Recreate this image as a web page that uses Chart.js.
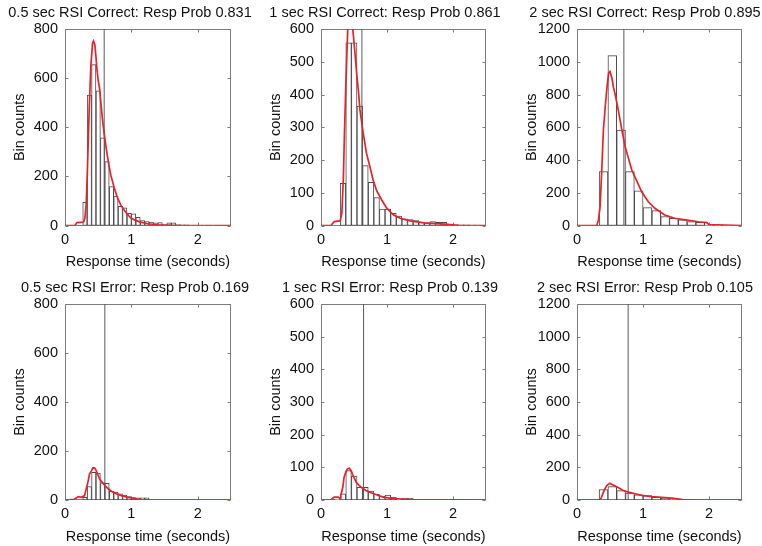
<!DOCTYPE html>
<html>
<head>
<meta charset="utf-8">
<script src="https://cdn.jsdelivr.net/npm/chart.js@4.4.1/dist/chart.umd.min.js"></script>
<style>
html,body{margin:0;padding:0;background:#fff;overflow:hidden;width:762px;height:546px;position:relative;}
canvas{position:absolute;}
</style>
</head>
<body>
<canvas id="c1"></canvas><canvas id="c2"></canvas><canvas id="c3"></canvas>
<canvas id="c4"></canvas><canvas id="c5"></canvas><canvas id="c6"></canvas>
<script>
// ---------- data ----------
const titles = [
  "0.5 sec RSI Correct: Resp Prob 0.831",
  "1 sec RSI Correct: Resp Prob 0.861",
  "2 sec RSI Correct: Resp Prob 0.895",
  "0.5 sec RSI Error: Resp Prob 0.169",
  "1 sec RSI Error: Resp Prob 0.139",
  "2 sec RSI Error: Resp Prob 0.105"
];
const xLabel = "Response time (seconds)";
const yLabel = "Bin counts";
const xTicks = [0, 1, 2];
const yTicks05 = [0, 200, 400, 600, 800];
const yTicks1 = [0, 100, 200, 300, 400, 500, 600];
const yTicks2 = [0, 200, 400, 600, 800, 1000, 1200];

// histogram bin centres (seconds)
const centers05 = [0.300,0.367,0.433,0.500,0.567,0.633,0.700,0.767,0.833,0.900,0.967,1.033,1.100,1.167,1.233,1.300,1.367,1.433,1.500,1.567,1.633,1.700,1.767,1.833,1.900,1.967,2.033,2.100,2.167,2.233,2.300,2.367,2.433];
const centers1 = [0.248,0.333,0.418,0.503,0.588,0.673,0.758,0.843,0.928,1.013,1.098,1.183,1.268,1.353,1.438,1.523,1.608,1.693,1.778,1.863,1.948,2.033,2.118,2.203,2.288,2.373,2.458];
const centers2 = [0.402,0.535,0.668,0.802,0.935,1.068,1.202,1.335,1.468,1.602,1.735,1.868,2.002,2.135,2.268,2.402];

// histogram counts
const counts05Correct = [94,531,655,548,357,260,158,120,78,72,50,48,33,20,16,14,11,12,4,11,11,4,3,3,1,1,1,1,0,1,0,0,0];
const counts1Correct = [0,129,558,558,365,183,132,85,50,50,37,29,20,18,15,10,8,12,10,10,4,3,2,2,1,1,0];
const counts2Correct = [329,1037,583,329,211,109,91,54,44,34,24,20,2,1,1,0];
const counts05Error = [11,55,113,110,70,68,35,32,25,20,14,10,9,9,9,1,1,1,0,0,0,0,0,0,0,0,0,0,0,0,0,0,0];
const counts1Error = [3,19,90,73,39,39,27,17,12,15,9,4,6,6,1,1,0,0,0,0,0,0,0,0,0,0,0];
const counts2Error = [64,82,57,43,31,27,16,12,1,1,0,0,0,0,0,0];

// model fit curves (red)
const fit05CorrectX = [0,0.15,0.18,0.28,0.30,0.32,0.34,0.365,0.39,0.415,0.43,0.45,0.465,0.48,0.50,0.52,0.54,0.565,0.59,0.615,0.64,0.665,0.69,0.74,0.79,0.84,0.89,0.94,0.99,1.07,1.14,1.24,1.39,1.6,2.5];
const fit05CorrectY = [0,0,12,14,30,90,246,478,653,742,751,735,690,640,590,560,500,430,375,325,280,240,205,155,113,84,63,46,31,20,14,7,3,1,0];
const fit1CorrectX = [0,0.15,0.2,0.29,0.316,0.34,0.355,0.375,0.39,0.405,0.44,0.475,0.49,0.515,0.54,0.57,0.59,0.64,0.69,0.74,0.79,0.84,0.92,1.0,1.1,1.2,1.35,1.56,1.87,2.1,2.5];
const fit1CorrectY = [0,0,12,14,37,150,280,420,510,597,660,610,582,526,465,404,353,281,220,180,139,108,78,52,32,22,14,8,4,0,0];
const fit2CorrectX = [0,0.3,0.325,0.35,0.375,0.4,0.43,0.455,0.48,0.5,0.53,0.55,0.58,0.6,0.63,0.68,0.73,0.78,0.83,0.91,0.98,1.08,1.18,1.33,1.48,1.64,1.84,1.97,2.0,2.5];
const fit2CorrectY = [0,0,34,115,339,583,736,848,933,940,899,848,797,756,695,583,481,410,339,268,206,145,105,64,44,34,23,18,5,0];
const fit05ErrorX = [0,0.14,0.2,0.245,0.295,0.32,0.345,0.37,0.4,0.42,0.445,0.47,0.5,0.52,0.545,0.6,0.65,0.7,0.78,0.85,0.95,1.06,1.16,1.3,2.5];
const fit05ErrorY = [0,3,14,11,18,46,73,107,120,131,131,120,100,86,77,59,46,36,25,18,11,5,1,0,0];
const fit1ErrorX = [0,0.15,0.2,0.26,0.29,0.3,0.33,0.35,0.38,0.4,0.43,0.46,0.48,0.51,0.53,0.58,0.63,0.68,0.76,0.84,0.94,1.04,1.2,1.4,2.5];
const fit1ErrorY = [0,0,9,9,5,14,39,70,88,95,97,88,78,65,55,44,36,29,22,16,9,6,3,1,0];
const fit2ErrorX = [0,0.35,0.37,0.41,0.45,0.5,0.55,0.63,0.7,0.78,0.88,0.98,1.13,1.28,1.44,1.6,1.75,2.5];
const fit2ErrorY = [0,0,16,57,88,103,91,75,58,48,38,28,21,17,11,3,1,0];

// mean response time (vertical line)
const meanRT = [0.59, 0.62, 0.71, 0.60, 0.645, 0.775];
const yMax = [800, 600, 1200, 800, 600, 1200];
const xMax = 2.5;

// ---------- layout (positions only) ----------
const panels = [
  {id:'c1', L:0,   T:0,   W:260, H:276, yW:65, rW:29, xH:50.5, centers:centers05, counts:counts05Correct, fx:fit05CorrectX, fy:fit05CorrectY, yt:yTicks05},
  {id:'c2', L:266, T:0,   W:238, H:276, yW:55, rW:18, xH:50.5, centers:centers1,  counts:counts1Correct,  fx:fit1CorrectX,  fy:fit1CorrectY,  yt:yTicks1},
  {id:'c3', L:520, T:0,   W:250, H:276, yW:57, rW:28, xH:50.5, centers:centers2,  counts:counts2Correct,  fx:fit2CorrectX,  fy:fit2CorrectY,  yt:yTicks2},
  {id:'c4', L:0,   T:275, W:270, H:276, yW:65, rW:39, xH:51,   centers:centers05, counts:counts05Error,   fx:fit05ErrorX,   fy:fit05ErrorY,   yt:yTicks05},
  {id:'c5', L:266, T:275, W:248, H:276, yW:55, rW:28, xH:51,   centers:centers1,  counts:counts1Error,    fx:fit1ErrorX,    fy:fit1ErrorY,    yt:yTicks1},
  {id:'c6', L:520, T:275, W:250, H:276, yW:57, rW:28, xH:51,   centers:centers2,  counts:counts2Error,    fx:fit2ErrorX,    fy:fit2ErrorY,    yt:yTicks2}
];

const FONT = "'Liberation Sans', Arial, Helvetica, sans-serif";
const FS = 14.5;
Chart.defaults.font.family = FONT;
Chart.defaults.font.size = FS;
Chart.defaults.color = '#111';

const matlabBox = {
  id: 'matlabBox',
  beforeDatasetsDraw(chart) {
    const {ctx, chartArea: a, scales} = chart;
    const x = scales.x, y = scales.y;
    const L = Math.round(a.left) + 0.5, R = Math.round(a.right) - 0.5;
    const T = Math.round(a.top) + 0.5, B = Math.round(a.bottom) - 0.5;
    ctx.save();
    ctx.strokeStyle = '#7d7d7d';
    ctx.lineWidth = 1;
    ctx.strokeRect(L, T, R - L, B - T);
    ctx.beginPath();
    x.ticks.forEach(t => {
      const px = Math.round(x.getPixelForValue(t.value)) + 0.5;
      ctx.moveTo(px, B); ctx.lineTo(px, B - 3);
      ctx.moveTo(px, T); ctx.lineTo(px, T + 3);
    });
    y.ticks.forEach(t => {
      const py = Math.round(y.getPixelForValue(t.value)) + 0.5;
      ctx.moveTo(L, py); ctx.lineTo(L + 3, py);
      ctx.moveTo(R, py); ctx.lineTo(R - 3, py);
    });
    ctx.stroke();
    ctx.restore();
  }
};

panels.forEach((p, i) => {
  const cv = document.getElementById(p.id);
  cv.width = p.W; cv.height = p.H;
  cv.style.left = p.L + 'px'; cv.style.top = p.T + 'px';
  cv.style.width = p.W + 'px'; cv.style.height = p.H + 'px';

  const bars = p.centers.map((c, k) => ({x: c, y: p.counts[k]}));
  const fit = p.fx.map((v, k) => ({x: v, y: p.fy[k]}));
  const vline = [{x: meanRT[i], y: 0}, {x: meanRT[i], y: yMax[i]}];

  new Chart(cv, {
    type: 'bar',
    data: {
      datasets: [
        {type:'line', data: fit, borderColor:'#e8212b', borderWidth:1.7, pointRadius:0, fill:false, tension:0, order:0, xAxisID:'x', yAxisID:'y'},
        {type:'line', data: vline, borderColor:'#5a5a5a', borderWidth:1, pointRadius:0, fill:false, order:1, xAxisID:'x', yAxisID:'y'},
        {type:'bar', data: bars, backgroundColor:'#ffffff', borderColor:'#4a4a4a', borderWidth:1, borderSkipped:false, barPercentage:1, categoryPercentage:1, order:2, xAxisID:'x', yAxisID:'y'}
      ]
    },
    options: {
      responsive: false,
      animation: false,
      events: [],
      layout: {padding: 0},
      plugins: {
        legend: {display: false},
        tooltip: {enabled: false},
        title: {display: true, text: titles[i], font: {size: FS, weight: 'normal', family: FONT}, color: '#111', padding: {top: 3.8, bottom: 7.8}}
      },
      scales: {
        x: {
          type: 'linear', position: 'bottom', min: 0, max: xMax, offset: false,
          grid: {display: false, drawTicks: false}, border: {display: false},
          ticks: {padding: 5.5, color: '#111', font: {size: FS}, callback: v => String(v)},
          afterBuildTicks: s => { s.ticks = xTicks.map(v => ({value: v})); },
          afterFit: s => { s.height = p.xH; },
          title: {display: true, text: xLabel, color: '#111', font: {size: FS}, padding: {top: 0, bottom: 5.3}}
        },
        y: {
          type: 'linear', position: 'left', min: 0, max: yMax[i],
          grid: {display: false, drawTicks: false}, border: {display: false},
          ticks: {padding: 7, color: '#111', font: {size: FS}, callback: v => String(v)},
          afterBuildTicks: s => { s.ticks = p.yt.map(v => ({value: v})); },
          afterFit: s => { s.width = p.yW; },
          title: {display: true, text: yLabel, color: '#111', font: {size: FS}, padding: {top: p.yW - 53.7, bottom: 0}}
        },
        yR: {
          type: 'linear', position: 'right', min: 0, max: 1, display: true,
          grid: {display: false, drawTicks: false}, border: {display: false},
          ticks: {display: false},
          afterFit: s => { s.width = p.rW; }
        }
      }
    },
    plugins: [matlabBox]
  });
});
</script>
</body>
</html>
